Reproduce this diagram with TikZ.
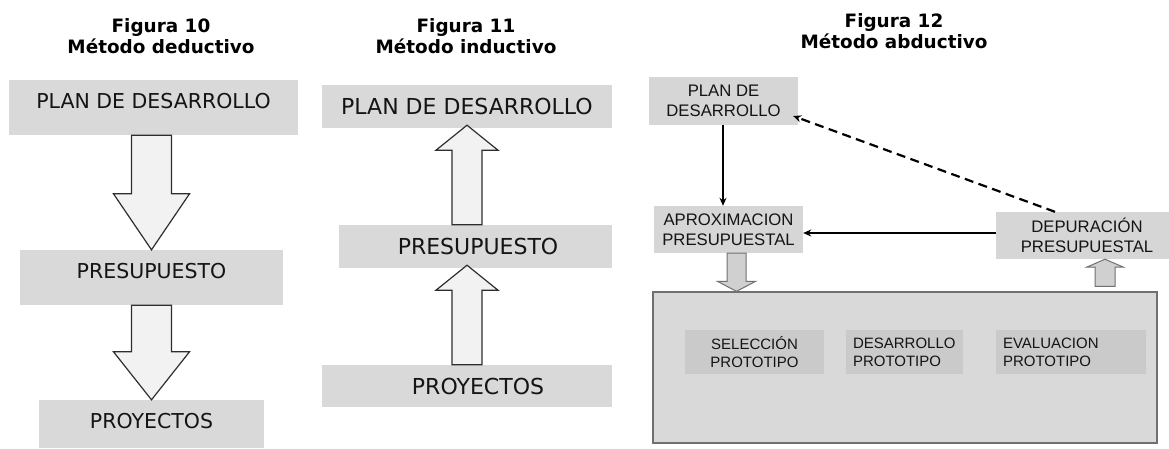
\documentclass[tikz,border=0pt]{standalone}
\usepackage{fontspec}
\newfontfamily\verd{DejaVu Sans}
\newfontfamily\arl{Liberation Sans}
\usetikzlibrary{arrows.meta,calc}
\definecolor{boxgray}{HTML}{D9D9D9}
\definecolor{box12}{HTML}{D6D6D6}
\definecolor{inner12}{HTML}{CACACA}
\definecolor{txt}{HTML}{141414}
\definecolor{arrfill}{HTML}{F2F2F2}
\definecolor{arrline}{HTML}{2E2E2E}
\definecolor{sarrfill}{HTML}{D0D0D0}
\definecolor{sarrline}{HTML}{707070}
\definecolor{frameline}{HTML}{707070}
\newcommand{\blkdown}[6]{%
  \draw[#1] ($(#2)+(-#4,0)$) -- ($(#3)+(-#4,-#6)$) -- ($(#3)+(-#5,-#6)$) -- (#3)
    -- ($(#3)+(#5,-#6)$) -- ($(#3)+(#4,-#6)$) -- ($(#2)+(#4,0)$) -- cycle;}
\newcommand{\blkup}[6]{%
  \draw[#1] ($(#2)+(-#4,0)$) -- ($(#3)+(-#4,#6)$) -- ($(#3)+(-#5,#6)$) -- (#3)
    -- ($(#3)+(#5,#6)$) -- ($(#3)+(#4,#6)$) -- ($(#2)+(#4,0)$) -- cycle;}
\begin{document}
\begin{tikzpicture}[x=1pt,y=-1pt,
  title/.style={font=\verd\bfseries\fontsize{18.4}{21}\selectfont, text=black, align=center, inner sep=0pt},
  boxten/.style={fill=boxgray, inner sep=0pt, text=txt, font=\verd\fontsize{20.5}{24}\selectfont, text height=15pt},
  boxeleven/.style={fill=boxgray, inner sep=0pt, text=txt, font=\verd\fontsize{22}{26}\selectfont, text height=16pt, text depth=0pt},
  boxtw/.style={fill=box12, inner sep=0pt, text=txt, align=center, font=\arl\fontsize{16.7}{20}\selectfont},
  innerbox/.style={fill=inner12, inner ysep=0pt, text=txt, font=\arl\fontsize{15}{18}\selectfont},
  blkarrow/.style={fill=arrfill, draw=arrline, line width=1.2pt, line join=miter},
  smallarrow/.style={fill=sarrfill, draw=sarrline, line width=1pt, line join=miter},
  conn/.style={draw=black, line width=2pt, -{Stealth[length=8pt,width=7pt]}},
  dconn/.style={conn, line width=2.2pt, dash pattern=on 9pt off 5.5pt}
]
\useasboundingbox (0,0) rectangle (1169,448);

% ---------- Figura 10 ----------
\node[title] (t10) at (161,35.8) {Figura 10\\Método deductivo};
\node[boxten, minimum width=289pt, minimum height=55pt, text depth=14pt] (p10) at (153.5,107.5) {PLAN DE DESARROLLO};
\node[boxten, minimum width=263pt, minimum height=55pt, text depth=14pt] (b10) at (151.5,277.5) {PRESUPUESTO};
\node[boxten, minimum width=225pt, minimum height=48pt, text depth=6pt] (r10) at (151.5,424) {PROYECTOS};
\coordinate (a10s) at (p10.south -| b10.north);
\coordinate (a10t) at (b10.north);
\coordinate (c10s) at (b10.south -| r10.north);
\coordinate (c10t) at (r10.north);
\blkdown{blkarrow}{a10s}{a10t}{20}{38}{56}
\blkdown{blkarrow}{c10s}{c10t}{20}{38}{48}

% ---------- Figura 11 ----------
\node[title] (t11) at (466,35.8) {Figura 11\\Método inductivo};
\node[boxeleven, minimum width=290pt, minimum height=43pt] (p11) at (467,106.5) {PLAN DE DESARROLLO};
\node[boxeleven, minimum width=273pt, minimum height=43pt] (b11) at (475.5,246.5) {\hspace*{5pt}PRESUPUESTO};
\node[boxeleven, minimum width=290pt, minimum height=42pt] (r11) at (467,386) {\hspace*{22pt}PROYECTOS};
\coordinate (a11s) at (b11.north -| p11.south);
\coordinate (a11t) at ($(p11.south)+(0,-3)$);
\coordinate (c11s) at (r11.north);
\coordinate (c11t) at ($(b11.south -| r11.north)+(0,-3)$);
\blkup{blkarrow}{a11s}{a11t}{15}{31}{25}
\blkup{blkarrow}{c11s}{c11t}{15}{31}{25}

% ---------- Figura 12 ----------
\node[title] (t12) at (894,30.8) {Figura 12\\Método abductivo};
\node[boxtw, minimum width=149pt, minimum height=48pt] (pl12) at (723.5,101) {PLAN DE\\DESARROLLO};
\node[boxtw, minimum width=149pt, minimum height=47pt] (apx) at (728.5,229.5) {APROXIMACION\\PRESUPUESTAL};
\node[boxtw, minimum width=173pt, minimum height=47pt] (dep) at (1082.5,235.5) {\hspace*{9pt}DEPURACIÓN\\\hspace*{9pt}PRESUPUESTAL};
\node[fill=boxgray, draw=frameline, line width=1.3pt, minimum width=504pt, minimum height=151pt, inner sep=0pt] (big) at (905,367.5) {};
\node[innerbox, minimum width=139pt, minimum height=44pt, align=center] (sel) at (754.5,352) {SELECCIÓN\\PROTOTIPO};
\node[innerbox, minimum height=44pt, text width=103pt, inner xsep=7pt, align=left] (des) at (904.5,352) {DESARROLLO\\PROTOTIPO};
\node[innerbox, minimum height=44pt, text width=136pt, inner xsep=7pt, align=left] (eva) at (1071,352) {EVALUACION\\PROTOTIPO};

% connectors
\draw[conn] ([xshift=-0.5pt]pl12.south) -- ([xshift=-0.5pt]pl12.south |- apx.north);
\draw[conn] ([yshift=2.5pt]dep.west) -- ([yshift=-3.5pt]apx.east);
\draw[dconn] ([xshift=-27.5pt]dep.north) -- ([xshift=-5pt,yshift=-15pt]pl12.east);

% small block arrows
\coordinate (sda) at ([xshift=8pt]apx.south);
\coordinate (sdb) at (sda |- big.north);
\blkdown{smallarrow}{sda}{sdb}{9.5}{19}{10}
\coordinate (sut) at ([xshift=22.5pt]dep.south);
\coordinate (sub) at ($(sut |- big.north)+(0,-5)$);
\blkup{smallarrow}{sub}{sut}{10}{18.5}{8}
\end{tikzpicture}
\end{document}
